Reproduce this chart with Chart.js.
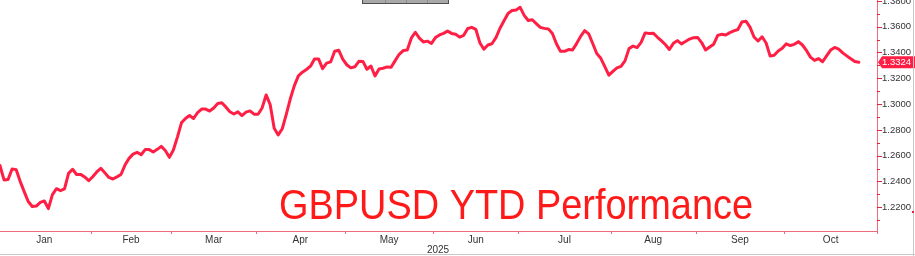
<!DOCTYPE html>
<html><head><meta charset="utf-8">
<script src="https://cdn.jsdelivr.net/npm/chart.js@4/dist/chart.umd.min.js"></script>
<style>html,body{margin:0;padding:0;background:#fff}#wrap{position:relative;width:915px;height:256px}</style>
</head><body><div id="wrap"><canvas id="c" width="915" height="256"></canvas></div>
<script>
// GBPUSD daily close, weekday index from 1 Jan 2025
const values = [
1.2523,1.2412,1.2415,1.2497,1.2492,1.2401,1.2321,1.2245,1.2206,1.2209,
1.2238,1.2249,1.2190,1.2298,1.2344,1.2329,1.2343,1.2463,1.2495,1.2454,
1.2455,1.2435,1.2406,1.2437,1.2474,1.2502,1.2467,1.2431,1.2419,1.2436,
1.2454,1.2527,1.2579,1.2612,1.2626,1.2607,1.2647,1.2647,1.2629,1.2649,
1.2672,1.2640,1.2587,1.2644,1.2744,1.2855,1.2888,1.2911,1.2888,1.2934,
1.2961,1.2961,1.2946,1.2970,1.3005,1.3010,1.2978,1.2941,1.2923,1.2940,
1.2911,1.2938,1.2947,1.2922,1.2921,1.2970,1.3071,1.2996,1.2812,1.2761,
1.2809,1.2920,1.3041,1.3143,1.3219,1.3247,1.3268,1.3294,1.3350,1.3350,
1.3275,1.3318,1.3327,1.3410,1.3418,1.3348,1.3305,1.3281,1.3289,1.3332,
1.3331,1.3270,1.3295,1.3218,1.3272,1.3278,1.3288,1.3285,1.3337,1.3386,
1.3415,1.3419,1.3511,1.3557,1.3512,1.3482,1.3488,1.3470,1.3516,1.3536,
1.3548,1.3566,1.3548,1.3542,1.3519,1.3533,1.3586,1.3595,1.3580,1.3476,
1.3425,1.3458,1.3468,1.3515,1.3588,1.3646,1.3703,1.3726,1.3730,1.3750,
1.3688,1.3648,1.3654,1.3624,1.3595,1.3587,1.3583,1.3547,1.3468,1.3409,
1.3409,1.3423,1.3420,1.3469,1.3525,1.3569,1.3544,1.3470,1.3392,1.3355,
1.3290,1.3224,1.3254,1.3281,1.3292,1.3335,1.3430,1.3450,1.3438,1.3478,
1.3552,1.3547,1.3550,1.3520,1.3492,1.3462,1.3423,1.3471,1.3492,1.3467,
1.3485,1.3504,1.3515,1.3517,1.3477,1.3419,1.3442,1.3464,1.3533,1.3541,
1.3536,1.3554,1.3567,1.3578,1.3636,1.3643,1.3597,1.3520,1.3489,1.3522,
1.3474,1.3372,1.3378,1.3412,1.3433,1.3467,1.3454,1.3463,1.3484,1.3458,
1.3416,1.3364,1.3339,1.3353,1.3328,1.3374,1.3419,1.3439,1.3426,1.3397,
1.3374,1.3352,1.3330,1.3324
];
const months = ['Jan','Feb','Mar','Apr','May','Jun','Jul','Aug','Sep','Oct'];
const monthStarts = [0,23,43,64,86,108,129,152,173,195];
const periodEnd = 218;
const yearLabel = '2025';
const yMajor = [1.22,1.24,1.26,1.28,1.30,1.32,1.34,1.36,1.38];
const yMajorLabels = ['1.2200','1.2400','1.2600','1.2800','1.3000','1.3200','1.3400','1.3600','1.3800'];
const yMinor = [1.21,1.23,1.25,1.27,1.29,1.31,1.33,1.35,1.37];
const lastLabel = '1.3324';
const titleText = 'GBPUSD YTD Performance';

const LINE = '#ff1f45';
const AXIS = '#f06a7e';
const TICK = '#e8203c';
const FONT = '"Liberation Sans", Arial, sans-serif';

const monthCenters = monthStarts.map((s,k)=>{
  const e = k < monthStarts.length-1 ? monthStarts[k+1] : periodEnd;
  return ((s-0.5)+(e-0.5))/2;
});

const deco = {
  id:'deco',
  afterDraw(chart){
    const c = chart.ctx, xs = chart.scales.x, ys = chart.scales.y, a = chart.chartArea;
    c.save();
    c.strokeStyle = AXIS; c.lineWidth = 1;
    const bounds = monthStarts.slice(1).map(s=>s-0.5).concat([periodEnd-0.5]);
    bounds.forEach(b=>{
      const x = Math.round(xs.getPixelForValue(b))+0.5;
      c.beginPath(); c.moveTo(x,a.bottom); c.lineTo(x,a.bottom+3); c.stroke();
    });
    c.fillStyle = '#333'; c.font = '10px '+FONT; c.textAlign='center'; c.textBaseline='middle';
    c.fillText(yearLabel, 438, 250);
    c.strokeStyle = TICK;
    yMajor.forEach(v=>{ const y=Math.round(ys.getPixelForValue(v))+0.5; c.beginPath(); c.moveTo(a.right,y); c.lineTo(a.right+5,y); c.stroke(); });
    yMinor.forEach(v=>{ const y=Math.round(ys.getPixelForValue(v))+0.5; c.beginPath(); c.moveTo(a.right,y); c.lineTo(a.right+3,y); c.stroke(); });
    const ly = ys.getPixelForValue(values[values.length-1]);
    c.fillStyle = LINE;
    c.beginPath();
    c.moveTo(a.right+1, ly);
    c.lineTo(a.right+5, ly-6);
    c.lineTo(915, ly-6);
    c.lineTo(915, ly+6);
    c.lineTo(a.right+5, ly+6);
    c.closePath(); c.fill();
    c.fillStyle = '#fff'; c.font = '9.5px '+FONT; c.textAlign='left'; c.textBaseline='middle';
    c.fillText(lastLabel, a.right+5, ly+0.5);
    c.font = '43px '+FONT;
    c.fillStyle = '#ff1a1a'; c.textAlign='left'; c.textBaseline='alphabetic';
    const w = c.measureText(titleText).width;
    const sx = 474 / w;
    c.save(); c.translate(279, 219); c.scale(sx, 1); c.fillText(titleText, 0, 0); c.restore();
    c.fillStyle = '#a8a8a8'; c.fillRect(362.5, -1, 86, 4.5);
    c.strokeStyle = '#505050'; c.lineWidth = 1; c.strokeRect(362.5, -1, 86, 4.5);
    c.strokeStyle = '#8a8a8a';
    [385.5, 406.5, 427.5].forEach(x=>{ c.beginPath(); c.moveTo(x,0); c.lineTo(x,3); c.stroke(); });
    c.strokeStyle = '#c8c8c8';
    c.beginPath(); c.moveTo(913.5,0); c.lineTo(913.5,256); c.stroke();
    c.beginPath(); c.moveTo(0,254.5); c.lineTo(915,254.5); c.stroke();
    c.fillStyle = TICK; c.fillRect(912, 211, 2, 2);
    c.restore();
  }
};

new Chart(document.getElementById('c').getContext('2d'), {
  type:'line',
  data:{datasets:[{
    data: values.map((v,i)=>({x:i,y:v})),
    borderColor: LINE, borderWidth: 3, pointRadius: 0, tension: 0, fill: false,
    borderJoinStyle:'round', borderCapStyle:'round'
  }]},
  options:{
    responsive:false, animation:false, devicePixelRatio:1,
    layout:{padding:0},
    plugins:{legend:{display:false}, tooltip:{enabled:false}},
    scales:{
      x:{
        type:'linear', position:'bottom', min:0, max:periodEnd-0.5,
        afterBuildTicks: s => { s.ticks = monthCenters.map(v=>({value:v})); },
        ticks:{autoSkip:false, maxRotation:0, minRotation:0, padding:3,
               font:{family:FONT, size:10}, color:'#333', callback:(v,i)=>months[i]},
        grid:{display:false, drawTicks:false},
        border:{display:true, color:AXIS, width:1},
        afterFit: s => { s.height = 25; s.paddingLeft = 0; s.paddingRight = 0; }
      },
      y:{
        type:'linear', position:'right', min:1.2016, max:1.3807,
        afterBuildTicks: s => { s.ticks = yMajor.map(v=>({value:v})); },
        ticks:{padding:5, font:{family:FONT, size:9.5}, color:'#333', callback:(v,i)=>yMajorLabels[i]},
        grid:{display:false, drawTicks:false},
        border:{display:true, color:AXIS, width:1},
        afterFit: s => { s.width = 38; s.paddingTop = 0; s.paddingBottom = 0; }
      }
    }
  },
  plugins:[deco]
});
</script>
</body></html>
